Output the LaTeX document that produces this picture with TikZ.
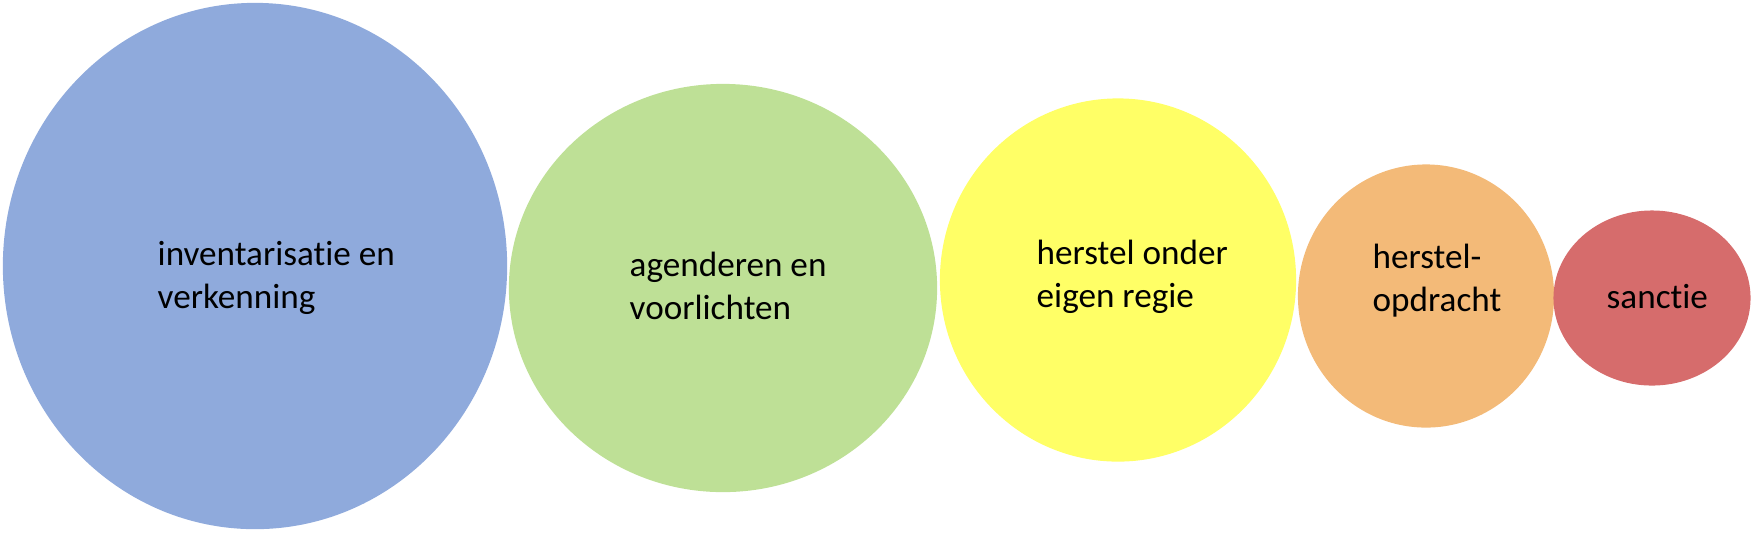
\documentclass[tikz,border=0pt]{standalone}
\usepackage{fontspec}
\setmainfont{Carlito}[Ligatures=NoCommon]
\usetikzlibrary{shapes,positioning}
\definecolor{blauw}{RGB}{143,170,220}
\definecolor{groen}{RGB}{190,224,150}
\definecolor{geel}{RGB}{255,255,102}
\definecolor{oranje}{RGB}{243,186,120}
\definecolor{rood}{RGB}{214,108,108}

\begin{document}
\begin{tikzpicture}[x=0.01cm,y=-0.01cm]
\tikzstyle{bol}=[ellipse,draw=none,inner sep=0pt]
\tikzstyle{tekst}=[anchor=west,align=left,inner sep=0pt,font=\fontsize{10}{12.2}\selectfont]
\useasboundingbox (0,0) rectangle (1754,532);
\node [bol,fill=blauw,minimum width=5.04cm,minimum height=5.26cm] at (255,266) (inv) {};
\node [bol,fill=groen,minimum width=4.28cm,minimum height=4.08cm] at (723,288) (agd) {};
\node [bol,fill=geel,minimum width=3.56cm,minimum height=3.63cm] at (1118,280) (eig) {};
\node [bol,fill=oranje,minimum width=2.56cm,minimum height=2.63cm] at (1426,296) (opd) {};
\node [bol,fill=rood,minimum width=1.97cm,minimum height=1.75cm] at (1652,298) (snc) {};
% teksten
\node [tekst] at (157,278) (invtekst) {inventarisatie en\\verkenning};
\node [tekst] at (629,286) (agdtekst) {agenderen en\\voorlichten};
\node [tekst] at (1036,277) (eigtekst) {herstel onder\\eigen regie};
\node [tekst] at (1372,281) (opdtekst) {herstel-\\opdracht};
\node [tekst] at (1606,297) (snctekst) {sanctie};
\end{tikzpicture}
\end{document}
